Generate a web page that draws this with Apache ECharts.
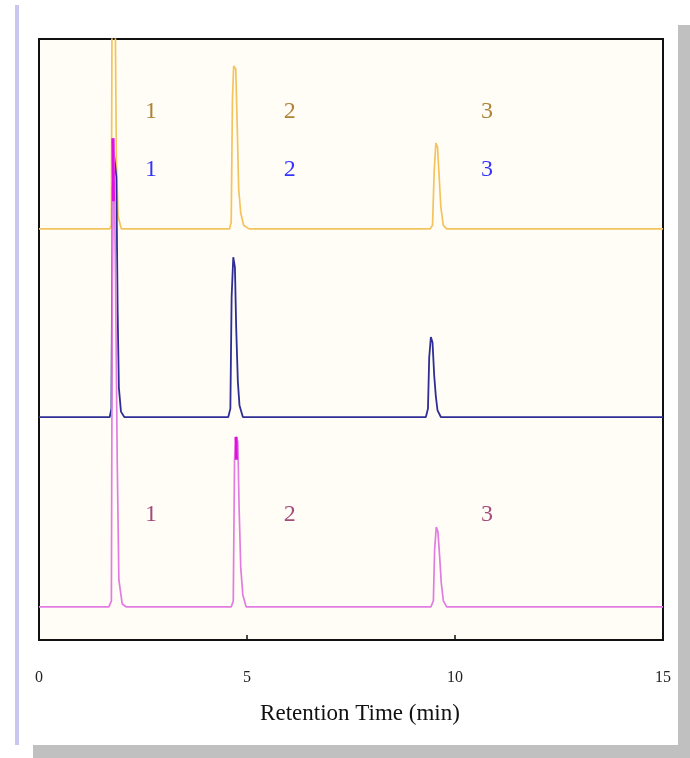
<!DOCTYPE html>
<html>
<head>
<meta charset="utf-8">
<title>Chromatogram</title>
<script src="https://cdn.jsdelivr.net/npm/echarts@6/dist/echarts.min.js"></script>
<style>
  html, body { margin: 0; padding: 0; background: #fff; }
  #main { width: 690px; height: 758px; }
</style>
</head>
<body>
<div id="main"></div>
<script>
// x axis ticks (retention time, min)
var xTicks = [0, 5, 10, 15];

// top trace (yellow)
var yellowTime   = [0, 1.70, 1.74, 1.76, 1.82, 1.86, 1.90, 1.98, 4.58, 4.62, 4.65, 4.68, 4.73, 4.77, 4.80, 4.85, 4.92, 5.05, 9.40, 9.46, 9.50, 9.54, 9.58, 9.62, 9.66, 9.72, 9.80, 15];
var yellowSignal = [68.4, 68.4, 69, 115, 115, 80, 70.5, 68.4, 68.4, 69.5, 90, 95.5, 95, 84, 75, 71, 69, 68.4, 68.4, 69, 78, 82.7, 82, 77, 72, 69, 68.4, 68.4];

// middle trace (blue)
var blueTime   = [0, 1.70, 1.74, 1.77, 1.80, 1.86, 1.89, 1.92, 1.97, 2.05, 4.55, 4.60, 4.63, 4.67, 4.71, 4.74, 4.78, 4.82, 4.90, 9.30, 9.35, 9.38, 9.42, 9.46, 9.50, 9.54, 9.58, 9.66, 15];
var blueSignal = [37.1, 37.1, 38.5, 75, 81, 77, 55, 42, 38, 37.1, 37.1, 38.5, 57, 63.7, 62, 52, 43, 39, 37.1, 37.1, 38.5, 47, 50.4, 49.5, 44, 40.5, 38.2, 37.1, 37.1];

// bottom trace (pink)
var pinkTime   = [0, 1.68, 1.74, 1.77, 1.80, 1.84, 1.88, 1.92, 2.00, 2.10, 4.62, 4.67, 4.70, 4.74, 4.78, 4.81, 4.85, 4.90, 4.98, 9.42, 9.48, 9.51, 9.55, 9.59, 9.63, 9.67, 9.72, 9.80, 15];
var pinkSignal = [5.5, 5.5, 6.5, 80, 83.5, 60, 30, 10, 6, 5.5, 5.5, 6.5, 30, 33.8, 33, 22, 12, 7.5, 5.5, 5.5, 6.5, 15, 18.8, 18, 14, 9.5, 6.5, 5.5, 5.5];

// bright tips of the pink peaks
var tipTime   = [[1.775, 1.79], [4.735, 4.745]];
var tipSignal = [[83.5, 73], [33.8, 30]];

// peak number labels
var peakLabels = ['1', '2', '3'];
var labelTime = [2.69, 6.03, 10.77];
var yellowLabelY = 87.9;
var blueLabelY = 78.2;
var pinkLabelY = 20.8;

function pairs(xs, ys) {
  var out = [];
  for (var i = 0; i < xs.length; i++) out.push([xs[i], ys[i]]);
  return out;
}

function labelSeries(y, color) {
  var d = [];
  for (var i = 0; i < peakLabels.length; i++) {
    d.push({ value: [labelTime[i], y], name: peakLabels[i] });
  }
  return {
    type: 'scatter',
    symbolSize: 0,
    silent: true,
    data: d,
    label: {
      show: true,
      position: 'inside',
      formatter: '{b}',
      color: color,
      fontFamily: 'Liberation Serif',
      fontSize: 24
    },
    z: 5
  };
}

var myChart = echarts.init(document.getElementById('main'));

var series = [
  {
    name: 'yellow', type: 'line', showSymbol: false, silent: true,
    data: pairs(yellowTime, yellowSignal),
    lineStyle: { color: '#f3c35e', width: 1.7 }
  },
  {
    name: 'blue', type: 'line', showSymbol: false, silent: true,
    data: pairs(blueTime, blueSignal),
    lineStyle: { color: '#2e2e96', width: 1.8 }
  },
  {
    name: 'pink', type: 'line', showSymbol: false, silent: true,
    data: pairs(pinkTime, pinkSignal),
    lineStyle: { color: '#e27ce2', width: 1.7 }
  }
];
for (var k = 0; k < tipTime.length; k++) {
  series.push({
    type: 'line', showSymbol: false, silent: true,
    data: pairs(tipTime[k], tipSignal[k]),
    lineStyle: { color: '#e010e0', width: 3 }
  });
}
series.push(labelSeries(yellowLabelY, '#9a6408'));
series.push(labelSeries(blueLabelY, '#0000ff'));
series.push(labelSeries(pinkLabelY, '#8c1f5e'));

myChart.setOption({
  backgroundColor: '#ffffff',
  animation: false,
  graphic: [
    { type: 'rect', shape: { x: 15, y: 5, width: 4, height: 740 }, style: { fill: '#c9c6f2' }, silent: true },
    { type: 'rect', shape: { x: 678, y: 25, width: 12, height: 733 }, style: { fill: '#c0c0c0' }, silent: true },
    { type: 'rect', shape: { x: 33, y: 745, width: 657, height: 13 }, style: { fill: '#c0c0c0' }, silent: true }
  ],
  grid: {
    left: 39, top: 39, width: 624, height: 601,
    show: true,
    backgroundColor: '#fffdf5',
    borderColor: '#111',
    borderWidth: 2
  },
  xAxis: {
    type: 'value',
    min: xTicks[0],
    max: xTicks[xTicks.length - 1],
    interval: 5,
    name: 'Retention Time (min)',
    nameLocation: 'middle',
    nameGap: 62,
    nameTextStyle: { fontFamily: 'Liberation Serif', fontSize: 23, color: '#111', padding: [0, 0, 0, 18] },
    axisLine: { show: true, lineStyle: { color: '#111', width: 2 } },
    axisTick: { show: true, inside: true, length: 5, lineStyle: { color: '#111', width: 1.5 } },
    axisLabel: { margin: 30, fontFamily: 'Liberation Serif', fontSize: 16, color: '#222' },
    splitLine: { show: false }
  },
  yAxis: {
    type: 'value',
    min: 0,
    max: 100,
    show: true,
    axisLine: { show: false },
    axisTick: { show: false },
    axisLabel: { show: false },
    splitLine: { show: false }
  },
  series: series
});
</script>
</body>
</html>
